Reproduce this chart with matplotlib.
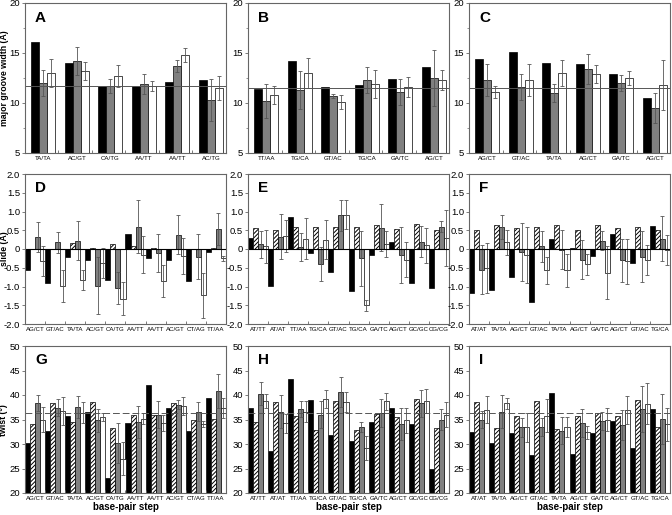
import numpy as np
import matplotlib.pyplot as plt
from matplotlib.ticker import MultipleLocator, FuncFormatter

plt.rcParams['font.family'] = ['Liberation Sans', 'DejaVu Sans']
plt.rcParams['hatch.linewidth'] = 0.7

# ---- major groove width (A, B, C) ----
a_labels = ['TA/TA', 'AC/GT', 'CA/TG', 'AA/TT', 'AA/TT', 'AC/TG']
a_black = [16.1, 14.0, 11.7, 11.7, 12.1, 12.3]
a_gray = [12.0, 14.2, 11.7, 11.9, 13.7, 10.3]
a_gray_err = [1.3, 1.4, 0.7, 1.0, 0.6, 2.1]
a_white = [13.0, 13.2, 12.7, 11.7, 14.8, 11.5]
a_white_err = [1.4, 0.9, 1.1, 0.5, 0.7, 1.2]
a_ref = 11.7

b_labels = ['TT/AA', 'TG/CA', 'GT/AC', 'TG/CA', 'GA/TC', 'AG/CT']
b_black = [11.4, 14.2, 11.6, 11.8, 12.4, 13.6]
b_gray = [10.2, 11.3, 10.7, 12.3, 11.1, 12.5]
b_gray_err = [1.7, 1.9, 0.2, 1.3, 1.3, 2.8]
b_white = [10.8, 13.0, 10.1, 11.9, 11.6, 12.3]
b_white_err = [0.9, 1.5, 0.7, 1.4, 1.0, 1.0]
b_ref = 11.5

c_labels = ['AG/CT', 'GT/AC', 'TA/TA', 'AG/CT', 'GA/TC', 'AG/CT']
c_black = [14.4, 15.1, 14.0, 13.9, 12.9, 10.5]
c_gray = [12.3, 11.6, 11.0, 13.4, 12.0, 9.5]
c_gray_err = [1.6, 1.3, 0.9, 1.5, 0.8, 1.5]
c_white = [11.1, 12.3, 13.0, 12.9, 12.5, 11.8]
c_white_err = [0.6, 1.6, 1.3, 0.9, 0.7, 2.5]
c_ref = 11.5

# ---- slide (D, E, F) and twist (G, H, I) ----
g_labels = ['AG/CT', 'GT/AC', 'TA/TA', 'AC/GT', 'CA/TG', 'AA/TT', 'AA/TT', 'AC/GT', 'CT/AG', 'TT/AA']
h_labels = ['AT/TT', 'AT/AT', 'TT/AA', 'TG/CA', 'GT/AC', 'TG/CA', 'GA/TC', 'AG/CT', 'GC/GC', 'CG/CG']
i_labels = ['AT/AT', 'TA/TA', 'AG/CT', 'GT/AC', 'TA/TA', 'AG/CT', 'GA/TC', 'AG/CT', 'GT/AC', 'TG/CA']

d_black = [-0.56, -0.90, -0.22, -0.30, -0.83, 0.40, -0.24, -0.28, -0.85, -0.08]
d_hatch = [0.01, 0.01, 0.17, 0.04, 0.13, 0.07, 0.03, 0.01, 0.01, 0.04]
d_gray = [0.33, 0.18, 0.22, -0.98, -1.03, 0.60, -0.10, 0.38, -0.20, 0.53]
d_gray_err = [0.40, 0.28, 0.52, 0.76, 0.43, 0.71, 0.50, 0.52, 0.60, 0.43]
d_white = [-0.32, -0.98, -0.83, -0.37, -1.32, -0.15, -0.85, -0.18, -1.23, -0.25]
d_white_err = [0.40, 0.42, 0.27, 0.40, 0.45, 0.50, 0.42, 0.48, 0.60, 0.07]

e_black = [0.30, -0.98, 0.85, -0.10, -0.60, -1.13, -0.17, 0.18, -0.90, -1.05]
e_hatch = [0.55, 0.52, 0.58, 0.60, 0.60, 0.60, 0.65, 0.54, 0.67, 0.50]
e_gray = [0.13, 0.33, 0.05, -0.40, 0.90, -0.25, 0.57, -0.15, 0.20, 0.60]
e_gray_err = [0.36, 0.60, 0.38, 0.46, 0.42, 0.73, 0.63, 0.75, 0.41, 0.15]
e_white = [0.07, 0.35, 0.28, 0.25, 0.92, -1.50, 0.13, -0.28, 0.10, 0.30]
e_white_err = [0.45, 0.42, 0.55, 0.52, 0.38, 0.14, 0.35, 0.47, 0.47, 0.74]

f_black = [-1.18, -1.08, -0.75, -1.42, 0.27, 0.03, -0.18, 0.40, -0.38, 0.62]
f_hatch = [0.52, 0.65, 0.55, 0.58, 0.65, 0.52, 0.65, 0.55, 0.60, 0.52]
f_gray = [-0.55, 0.60, -0.08, 0.07, -0.02, -0.28, 0.22, -0.30, -0.20, 0.28]
f_gray_err = [0.65, 0.32, 0.78, 0.42, 0.52, 0.52, 0.25, 0.58, 0.67, 0.60]
f_white = [-0.50, 0.18, -0.15, -0.57, -0.57, -0.40, -0.63, -0.32, -0.28, -0.02]
f_white_err = [0.67, 0.33, 0.75, 0.35, 0.43, 0.28, 0.70, 0.60, 0.40, 0.40]

g_black = [30.2, 32.7, 35.7, 36.5, 23.0, 34.3, 42.0, 37.4, 32.6, 39.4]
g_hatch = [34.0, 38.4, 34.4, 38.5, 33.3, 36.0, 35.9, 38.4, 34.9, 35.2]
g_gray = [38.4, 37.4, 37.6, 34.8, 30.2, 34.5, 36.0, 38.0, 36.6, 40.8]
g_gray_err = [1.7, 1.7, 2.2, 2.3, 4.1, 3.3, 2.7, 0.9, 2.0, 3.4]
g_white = [35.0, 36.7, 36.4, 35.5, 27.0, 35.2, 34.3, 37.8, 34.0, 37.4]
g_white_err = [2.6, 2.9, 2.1, 0.9, 3.4, 1.1, 1.7, 1.8, 0.6, 2.0]

h_black = [37.4, 28.6, 43.2, 39.0, 31.8, 30.7, 34.5, 37.4, 34.1, 24.9]
h_hatch = [34.4, 38.6, 35.8, 32.9, 38.8, 32.9, 36.1, 35.6, 39.2, 33.2]
h_gray = [40.3, 36.6, 37.1, 36.0, 40.6, 33.4, 36.3, 34.1, 38.3, 35.0]
h_gray_err = [2.3, 3.4, 1.6, 2.7, 3.0, 1.0, 2.9, 3.3, 2.8, 2.1]
h_white = [38.8, 34.2, 36.6, 39.2, 38.6, 29.2, 38.7, 34.8, 38.8, 36.0]
h_white_err = [1.4, 2.0, 2.2, 1.9, 2.0, 2.4, 1.7, 2.6, 2.5, 2.5]

i_black = [32.5, 30.3, 32.3, 27.7, 40.4, 28.0, 32.3, 34.6, 29.1, 37.2]
i_hatch = [38.5, 33.2, 35.7, 38.8, 33.1, 35.7, 36.3, 35.7, 38.9, 33.5]
i_gray = [35.0, 36.6, 33.4, 33.5, 32.7, 34.3, 34.7, 33.9, 37.2, 35.1]
i_gray_err = [1.7, 3.3, 2.0, 1.8, 2.8, 2.9, 1.9, 3.0, 4.7, 5.1]
i_white = [37.0, 38.3, 33.4, 35.8, 33.5, 32.4, 35.0, 36.9, 38.2, 34.0]
i_white_err = [2.8, 1.1, 2.9, 3.4, 2.0, 1.3, 2.3, 2.8, 4.2, 3.4]
twist_ref = 36.4

W, H = 672, 515
fig = plt.figure(figsize=(W / 100, H / 100), dpi=100)

cols = [25, 248, 469]
rows = [(3, 153), (174, 324), (346, 493)]
ax_w = 201

ekw = dict(ecolor='#555555', elinewidth=0.6, capsize=1.3, capthick=0.6)
spine_col = '#666666'


def make_ax(col, row):
    top, bot = rows[row]
    ax = fig.add_axes([cols[col] / W, (H - bot) / H, ax_w / W, (bot - top) / H])
    for s in ax.spines.values():
        s.set_color(spine_col)
        s.set_linewidth(0.8)
    ax.tick_params(axis='y', direction='out', length=2.5, width=0.6, color=spine_col,
                   labelsize=6.8, pad=1)
    ax.tick_params(axis='y', which='minor', direction='out', length=1.5, width=0.5, color=spine_col)
    ax.tick_params(axis='x', which='major', length=0, labelsize=4.4, pad=2)
    ax.tick_params(axis='x', which='minor', direction='in', length=2.5, width=0.6, color=spine_col)
    return ax


def panel_letter(ax, s):
    ax.text(0.05, 0.95, s, transform=ax.transAxes, fontsize=11, fontweight='bold',
            va='top', ha='left')


def groove(ax, labels, black, gray, gray_err, white, white_err, ref, letter):
    n = len(labels)
    x = np.arange(n) + 0.55
    w = 0.24
    ax.bar(x - w, black, w, color='black', edgecolor='black', linewidth=0.5)
    ax.bar(x, gray, w, yerr=gray_err, color='#808080', edgecolor='black', linewidth=0.5,
           error_kw=ekw)
    ax.bar(x + w, white, w, yerr=white_err, color='white', edgecolor='black', linewidth=0.5,
           error_kw=ekw)
    ax.axhline(ref, color='#555555', lw=0.7)
    ax.set_xlim(0, n)
    ax.set_ylim(5, 20)
    ax.yaxis.set_major_locator(MultipleLocator(5))
    ax.yaxis.set_minor_locator(MultipleLocator(2.5))
    ax.set_xticks(x)
    ax.set_xticklabels(labels)
    ax.set_xticks(np.arange(1, n), minor=True)
    panel_letter(ax, letter)


def four(ax, labels, black, hatch, gray, gray_err, white, white_err, letter, kind):
    n = len(labels)
    x = np.arange(n)
    w = 0.25
    ax.bar(x + 0.125, black, w, color='black', edgecolor='black', linewidth=0.5)
    ax.bar(x + 0.375, hatch, w, color='white', edgecolor='black', hatch='////////', linewidth=0.5)
    ax.bar(x + 0.625, gray, w, yerr=gray_err, color='#808080', edgecolor='black', linewidth=0.5,
           error_kw=ekw)
    ax.bar(x + 0.875, white, w, yerr=white_err, color='white', edgecolor='black', linewidth=0.5,
           error_kw=ekw)
    ax.set_xlim(0, n)
    if kind == 'slide':
        ax.axhline(0, color='black', lw=0.8)
        ax.set_ylim(-2, 2)
        ax.yaxis.set_major_locator(MultipleLocator(0.5))
        ax.yaxis.set_major_formatter(FuncFormatter(lambda v, p: '0' if abs(v) < 1e-9 else '%.1f' % v))
    else:
        ax.axhline(twist_ref, color='#555555', lw=0.7, ls=(0, (7, 3)))
        ax.set_ylim(20, 50)
        ax.yaxis.set_major_locator(MultipleLocator(5))
    ax.set_xticks(x + 0.5)
    ax.set_xticklabels(labels)
    ax.set_xticks(np.arange(1, n), minor=True)
    panel_letter(ax, letter)


groove(make_ax(0, 0), a_labels, a_black, a_gray, a_gray_err, a_white, a_white_err, a_ref, 'A')
groove(make_ax(1, 0), b_labels, b_black, b_gray, b_gray_err, b_white, b_white_err, b_ref, 'B')
groove(make_ax(2, 0), c_labels, c_black, c_gray, c_gray_err, c_white, c_white_err, c_ref, 'C')

four(make_ax(0, 1), g_labels, d_black, d_hatch, d_gray, d_gray_err, d_white, d_white_err, 'D', 'slide')
four(make_ax(1, 1), h_labels, e_black, e_hatch, e_gray, e_gray_err, e_white, e_white_err, 'E', 'slide')
four(make_ax(2, 1), i_labels, f_black, f_hatch, f_gray, f_gray_err, f_white, f_white_err, 'F', 'slide')

four(make_ax(0, 2), g_labels, g_black, g_hatch, g_gray, g_gray_err, g_white, g_white_err, 'G', 'twist')
four(make_ax(1, 2), h_labels, h_black, h_hatch, h_gray, h_gray_err, h_white, h_white_err, 'H', 'twist')
four(make_ax(2, 2), i_labels, i_black, i_hatch, i_gray, i_gray_err, i_white, i_white_err, 'I', 'twist')

# axis titles
fig.text(4 / W, 1 - 78 / H, 'major groove width (Å)', rotation=90, fontsize=6.3,
         fontweight='bold', ha='center', va='center')
fig.text(4 / W, 1 - 249 / H, 'slide (Å)', rotation=90, fontsize=6.3,
         fontweight='bold', ha='center', va='center')
fig.text(4 / W, 1 - 420 / H, 'twist (°)', rotation=90, fontsize=6.3,
         fontweight='bold', ha='center', va='center')
for c in cols:
    fig.text((c + ax_w / 2) / W, 1 - 507 / H, 'base-pair step', fontsize=7,
             fontweight='bold', ha='center', va='center')

fig.savefig('out.png', dpi=100)
